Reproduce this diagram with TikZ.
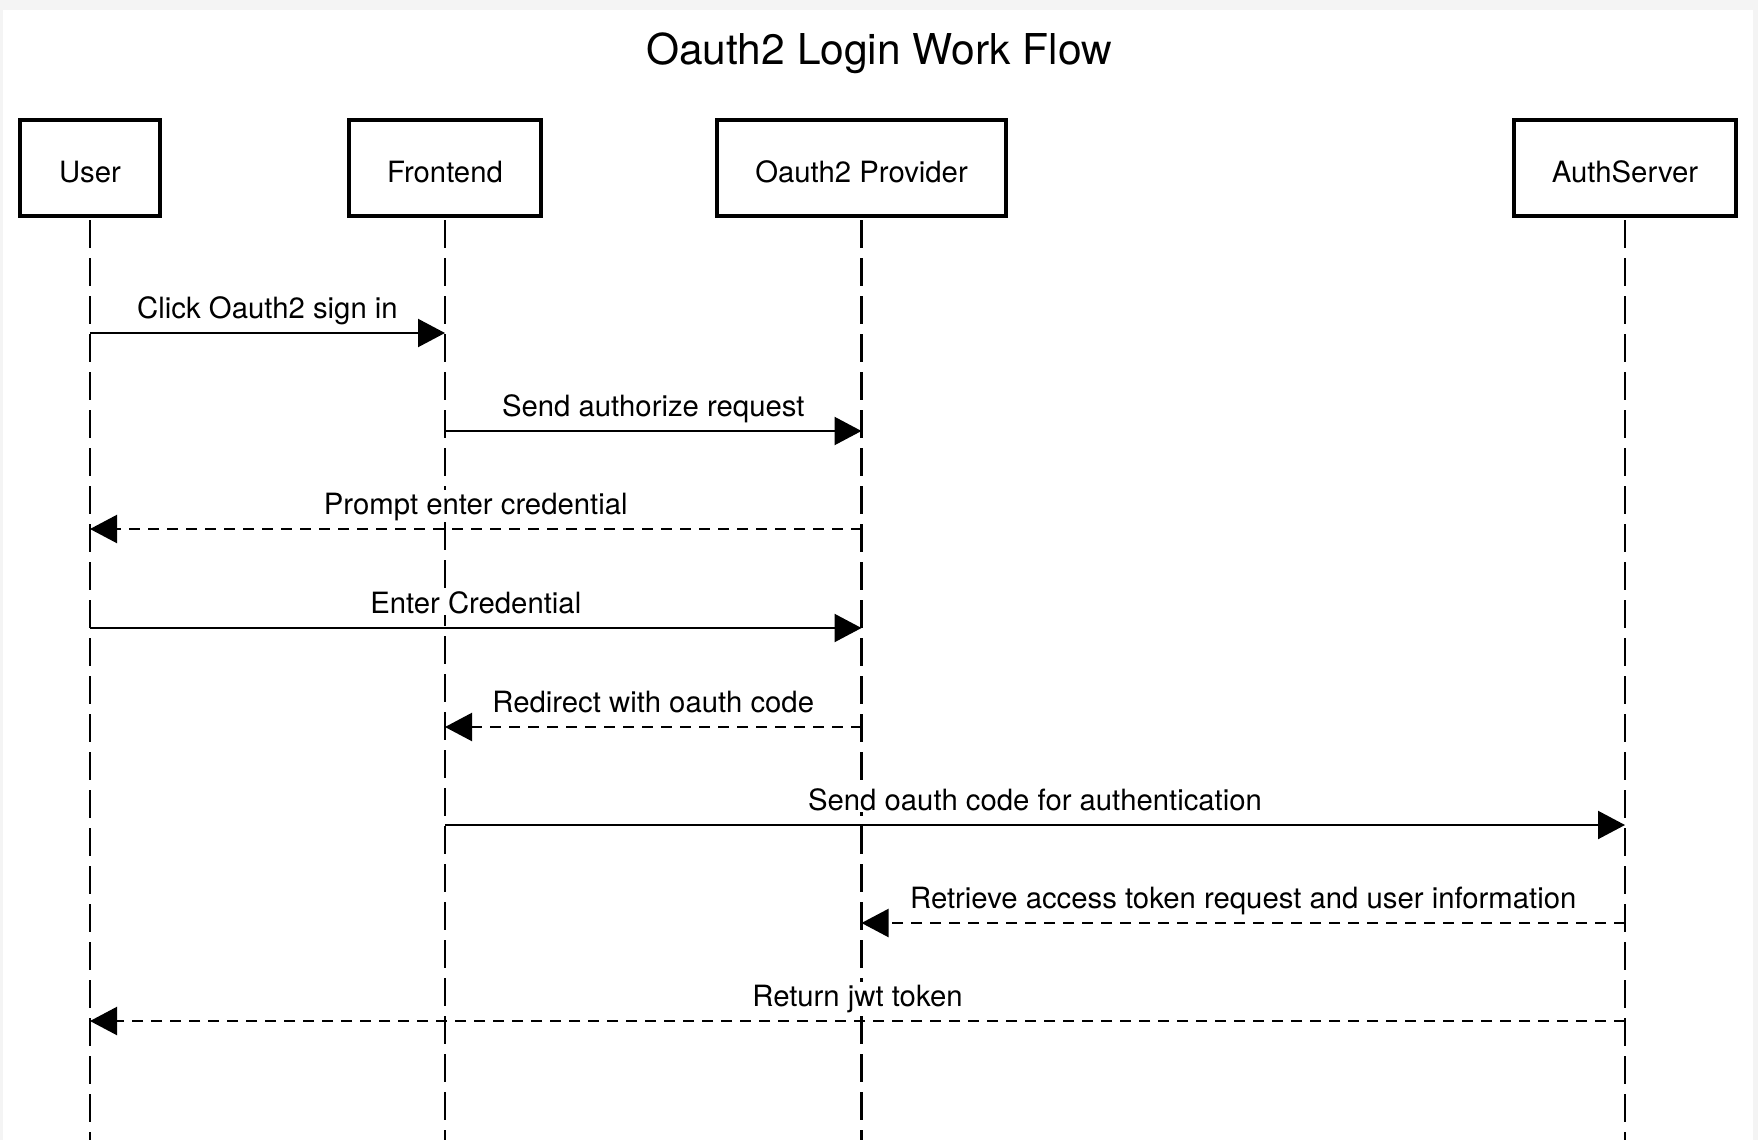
\documentclass[tikz,border=0pt]{standalone}
\usepackage{fontspec}
\setmainfont{TeX Gyre Heros}
\usetikzlibrary{arrows.meta}
\definecolor{framegrey}{HTML}{F4F4F4}
\begin{document}
\begin{tikzpicture}[x=1pt,y=-1pt,
  head/.style={draw=black, line width=4pt, fill=white, inner sep=0pt,
    minimum height=96pt, text height=28pt, text depth=0pt,
    font=\fontsize{29.3}{34}\selectfont},
  lifeline/.style={draw=black, line width=2.4pt, dash pattern=on 28pt off 10pt},
  msg/.style={draw=black, line width=2.2pt, -{Triangle[length=27pt,width=28pt]}},
  reply/.style={msg, dash pattern=on 11pt off 8pt},
  lbl/.style={anchor=base, inner sep=1.5pt, fill=white, draw=none,
    font=\fontsize{29.3}{34}\selectfont}]
\useasboundingbox (0,0) rectangle (1758,1140);
\fill[framegrey] (0,0) rectangle (1758,1140);
\fill[white] (3,10) rectangle (1753,1140);

\node[anchor=base, font=\fontsize{42.5}{50}\selectfont, inner sep=0pt] (title) at (879,64) {Oauth2 Login Work Flow};

\node[head, minimum width=140pt] (u) at (90,168) {User};
\node[head, minimum width=192pt] (f) at (445,168) {Frontend};
\node[head, minimum width=289pt] (p) at (861.5,168) {Oauth2 Provider};
\node[head, minimum width=222pt] (a) at (1625,168) {AuthServer};

% lifeline ends and the breaks where a label sits on a lifeline
\coordinate (uend) at (90,1140);
\coordinate (fend) at (445,1140);
\coordinate (pend) at (861.5,1140);
\coordinate (aend) at (1625,1140);
\coordinate (fb1) at (445,490);   \coordinate (fc1) at (445,522);
\coordinate (fb2) at (445,589);   \coordinate (fc2) at (445,615);
\coordinate (pb1) at (861.5,786); \coordinate (pc1) at (861.5,812);
\coordinate (pb2) at (861.5,982); \coordinate (pc2) at (861.5,1014);

\draw[lifeline] ([yshift=-2pt]u.south) -- (uend);
\draw[lifeline] ([yshift=-2pt]f.south) -- (fb1);
\draw[lifeline] (fc1) -- (fb2);
\draw[lifeline, dash phase=17pt] (fc2) -- (fend);
\draw[lifeline] ([yshift=-2pt]p.south) -- (pb1);
\draw[lifeline, dash phase=24pt] (pc1) -- (pb2);
\draw[lifeline, dash phase=36pt] (pc2) -- (pend);
\draw[lifeline] ([yshift=-2pt]a.south) -- (aend);

% message end points on the lifelines
\coordinate (m1a) at (90,333);   \coordinate (m1b) at (445,333);
\coordinate (m2a) at (445,431);  \coordinate (m2b) at (861.5,431);
\coordinate (m3a) at (861.5,529); \coordinate (m3b) at (90,529);
\coordinate (m4a) at (90,628);   \coordinate (m4b) at (861.5,628);
\coordinate (m5a) at (861.5,727); \coordinate (m5b) at (445,727);
\coordinate (m6a) at (445,825);  \coordinate (m6b) at (1625,825);
\coordinate (m7a) at (1625,923); \coordinate (m7b) at (861.5,923);
\coordinate (m8a) at (1625,1021); \coordinate (m8b) at (90,1021);

\draw[msg] (m1a) -- (m1b);
\draw[msg] (m2a) -- (m2b);
\draw[reply] (m3a) -- (m3b);
\draw[msg] (m4a) -- (m4b);
\draw[reply] (m5a) -- (m5b);
\draw[msg] (m6a) -- (m6b);
\draw[reply] (m7a) -- (m7b);
\draw[reply] (m8a) -- (m8b);

% message labels
\node[lbl] (l1) at (267.5,318) {Click Oauth2 sign in};
\node[lbl] (l2) at (653.25,416) {Send authorize request};
\node[lbl] (l3) at (475.75,514) {Prompt enter credential};
\node[lbl] (l4) at (475.75,613) {Enter Credential};
\node[lbl] (l5) at (653.25,712) {Redirect with oauth code};
\node[lbl] (l6) at (1035,810) {Send oauth code for authentication};
\node[lbl] (l7) at (1243.25,908) {Retrieve access token request and user information};
\node[lbl] (l8) at (857.5,1006) {Return jwt token};
\end{tikzpicture}
\end{document}
